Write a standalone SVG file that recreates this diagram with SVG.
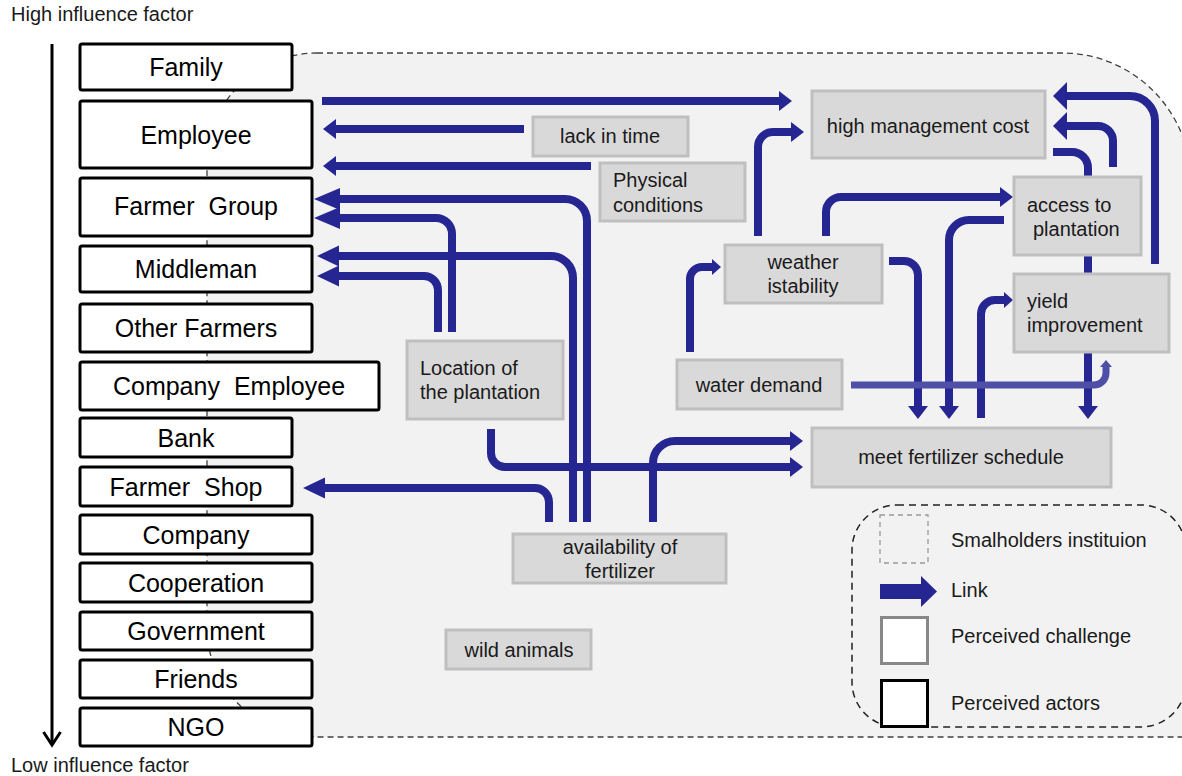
<svg xmlns="http://www.w3.org/2000/svg" width="1182" height="776" viewBox="0 0 1182 776">
<style>
text{font-family:"Liberation Sans",Arial,sans-serif;fill:#000}
.actor rect{fill:#fff;stroke:#000;stroke-width:3}
.actor text{font-size:25px;text-anchor:middle}
.ch rect{fill:#d9d9d9;stroke:#bfbfbf;stroke-width:3}
.ch text{font-size:20px;fill:#1a1a1a}
.c{text-anchor:middle}
.cn path{fill:none;stroke:#262692;stroke-width:8}
.leg text{font-size:20px;fill:#1a1a1a}
.axis{font-size:20px;fill:#1a1a1a}
</style>
<defs>
<marker id="m1" markerUnits="userSpaceOnUse" viewBox="-2 -12 16 24" markerWidth="16" markerHeight="24" refX="0" refY="0" orient="auto"><path d="M-1,-10 L12,0 L-1,10 Z" fill="#262692"/></marker>
<marker id="m2" markerUnits="userSpaceOnUse" viewBox="-2 -13 30 26" markerWidth="30" markerHeight="26" refX="0" refY="0" orient="auto"><path d="M-1,-11 L25,0 L-1,11 Z" fill="#262692"/></marker>
<marker id="m3" markerUnits="userSpaceOnUse" viewBox="-2 -13 26 26" markerWidth="26" markerHeight="26" refX="0" refY="0" orient="auto"><path d="M-1,-10.5 L21,0 L-1,10.5 Z" fill="#262692"/></marker>
<marker id="m4" markerUnits="userSpaceOnUse" viewBox="-2 -10 12 20" markerWidth="12" markerHeight="20" refX="0" refY="0" orient="auto"><path d="M-1,-8 L8,0 L-1,8 Z" fill="#262692"/></marker>
<marker id="m5" markerUnits="userSpaceOnUse" viewBox="-2 -16 18 32" markerWidth="18" markerHeight="32" refX="0" refY="0" orient="auto"><path d="M-1,-14 L13,0 L-1,14 Z" fill="#262692"/></marker>
<marker id="m6" markerUnits="userSpaceOnUse" viewBox="-2 -8 10 16" markerWidth="10" markerHeight="16" refX="0" refY="0" orient="auto"><path d="M-1,-6 L6,0 L-1,6 Z" fill="#4f4fa8"/></marker>
</defs>
<rect width="1182" height="776" fill="#fff"/>
<path id="region" d="M317,53 H1062 A129,129 0 0 1 1191,182 V737 H317 A110,110 0 0 1 207,627 V163 A110,110 0 0 1 317,53 Z" fill="#f2f2f2" stroke="#404040" stroke-width="1.3" stroke-dasharray="6 4"/>
<g id="axis">
<text class="axis" x="11" y="21">High influence factor</text>
<line x1="52" y1="44" x2="52" y2="744" stroke="#000" stroke-width="3"/>
<polyline points="43.5,732 52,745 60.5,732" fill="none" stroke="#000" stroke-width="3"/>
<text class="axis" x="11" y="772">Low influence factor</text>
</g>
<g id="connectors" class="cn">
<path d="M322,101 H780" marker-end="url(#m1)"/>
<path d="M524,129 H335" marker-end="url(#m1)"/>
<path d="M591,166 H335" marker-end="url(#m1)"/>
<path d="M587,522 V221 A22,22 0 0 0 565,199 H339" marker-end="url(#m2)"/>
<path d="M452,332 V234 A16,16 0 0 0 436,218 H339" marker-end="url(#m2)"/>
<path d="M573,522 V278 A22,22 0 0 0 551,256 H338" marker-end="url(#m3)"/>
<path d="M438,332 V290 A14,14 0 0 0 424,276 H338" marker-end="url(#m3)"/>
<path d="M549,522 V502 A14,14 0 0 0 535,488 H324" marker-end="url(#m3)"/>
<path d="M491,429 V453 A14,14 0 0 0 505,467 H791" marker-end="url(#m1)"/>
<path d="M653,522 V463 A22,22 0 0 1 675,441 H791" marker-end="url(#m1)"/>
<path d="M690,352 V279 A12,12 0 0 1 702,267 H713" marker-end="url(#m4)"/>
<path d="M758,236 V147 A15,15 0 0 1 773,132 H792" marker-end="url(#m1)"/>
<path d="M826,236 V212 A15,15 0 0 1 841,197 H1001" marker-end="url(#m1)"/>
<path d="M889,261 H904 A14,14 0 0 1 918,275 V407" marker-end="url(#m1)"/>
<path d="M1004,220 H969 A20,20 0 0 0 949,240 V407" marker-end="url(#m1)"/>
<path d="M981,418 V314 A14,14 0 0 1 995,300 H1005" marker-end="url(#m4)"/>
<path d="M1053,152 H1072 A16,16 0 0 1 1088,168 V407" marker-end="url(#m1)"/>
<path d="M1155,264 V121 A25,25 0 0 0 1130,96 H1066" marker-end="url(#m5)"/>
<path d="M1113,167 V141 A15,15 0 0 0 1098,126 H1066" marker-end="url(#m5)"/>
<path d="M851,385 H1094 A12,12 0 0 0 1106,373 V366" style="stroke:#4f4fa8;stroke-width:7" marker-end="url(#m6)"/>
</g>
<g id="n-family" class="actor"><rect x="80" y="44" width="212" height="46" rx="2"/><text x="186" y="76">Family</text></g>
<g id="n-employee" class="actor"><rect x="80" y="101" width="232" height="67" rx="2"/><text x="196" y="144">Employee</text></g>
<g id="n-farmergroup" class="actor"><rect x="80" y="178" width="232" height="58" rx="2"/><text x="196" y="215" word-spacing="7">Farmer Group</text></g>
<g id="n-middleman" class="actor"><rect x="80" y="246" width="232" height="46" rx="2"/><text x="196" y="278">Middleman</text></g>
<g id="n-otherfarmers" class="actor"><rect x="80" y="304" width="232" height="48" rx="2"/><text x="196" y="337">Other Farmers</text></g>
<g id="n-companyemployee" class="actor"><rect x="80" y="362" width="299" height="48" rx="2"/><text x="229" y="395" word-spacing="7">Company Employee</text></g>
<g id="n-bank" class="actor"><rect x="80" y="418" width="212" height="39" rx="2"/><text x="186" y="447">Bank</text></g>
<g id="n-farmershop" class="actor"><rect x="80" y="467" width="212" height="39" rx="2"/><text x="186" y="496" word-spacing="7">Farmer Shop</text></g>
<g id="n-company" class="actor"><rect x="80" y="515" width="232" height="39" rx="2"/><text x="196" y="544">Company</text></g>
<g id="n-cooperation" class="actor"><rect x="80" y="563" width="232" height="39" rx="2"/><text x="196" y="592">Cooperation</text></g>
<g id="n-government" class="actor"><rect x="80" y="612" width="232" height="38" rx="2"/><text x="196" y="640">Government</text></g>
<g id="n-friends" class="actor"><rect x="80" y="660" width="232" height="38" rx="2"/><text x="196" y="688">Friends</text></g>
<g id="n-ngo" class="actor"><rect x="80" y="708" width="232" height="38" rx="2"/><text x="196" y="736">NGO</text></g>
<g id="n-lackintime" class="ch"><rect x="533" y="117" width="155" height="39"/><text class="c" x="610" y="143">lack in time</text></g>
<g id="n-physical" class="ch"><rect x="600" y="163" width="145" height="58"/><text x="613" y="187">Physical</text><text x="613" y="212">conditions</text></g>
<g id="n-hmc" class="ch"><rect x="812" y="91" width="233" height="67"/><text class="c" x="928" y="133">high management cost</text></g>
<g id="n-access" class="ch"><rect x="1014" y="177" width="127" height="78"/><text x="1027" y="212">access to</text><text x="1033" y="236">plantation</text></g>
<g id="n-weather" class="ch"><rect x="725" y="245" width="157" height="58"/><text class="c" x="803" y="269">weather</text><text class="c" x="803" y="293">istability</text></g>
<g id="n-yield" class="ch"><rect x="1014" y="274" width="155" height="78"/><text x="1027" y="308">yield</text><text x="1027" y="332">improvement</text></g>
<g id="n-location" class="ch"><rect x="407" y="341" width="156" height="78"/><text x="420" y="375">Location of</text><text x="420" y="399">the plantation</text></g>
<g id="n-water" class="ch"><rect x="677" y="360" width="165" height="49"/><text class="c" x="759" y="392">water demand</text></g>
<g id="n-mfs" class="ch"><rect x="812" y="428" width="299" height="59"/><text class="c" x="961" y="464">meet fertilizer schedule</text></g>
<g id="n-availability" class="ch"><rect x="513" y="534" width="213" height="49"/><text class="c" x="620" y="554">availability of</text><text class="c" x="620" y="578">fertilizer</text></g>
<g id="n-wild" class="ch"><rect x="446" y="630" width="145" height="39"/><text class="c" x="519" y="657">wild animals</text></g>
<g id="legend" class="leg">
<rect x="852" y="505" width="334" height="222" rx="45" fill="#f2f2f2" stroke="#222" stroke-width="1.5" stroke-dasharray="7 5"/>
<rect x="880" y="515" width="48" height="48" fill="#f2f2f2" stroke="#999" stroke-width="1.3" stroke-dasharray="5 4"/>
<text x="951" y="547">Smalholders instituion</text>
<polygon points="880,584 921,584 921,576 937,591.5 921,607 921,599 880,599" fill="#262692"/>
<text x="951" y="597">Link</text>
<rect x="881.5" y="617.5" width="46" height="46" fill="#fff" stroke="#888" stroke-width="3"/>
<text x="951" y="643">Perceived challenge</text>
<rect x="881.5" y="680.5" width="46" height="46" fill="#fff" stroke="#000" stroke-width="3"/>
<text x="951" y="710">Perceived actors</text>
</g>
</svg>
